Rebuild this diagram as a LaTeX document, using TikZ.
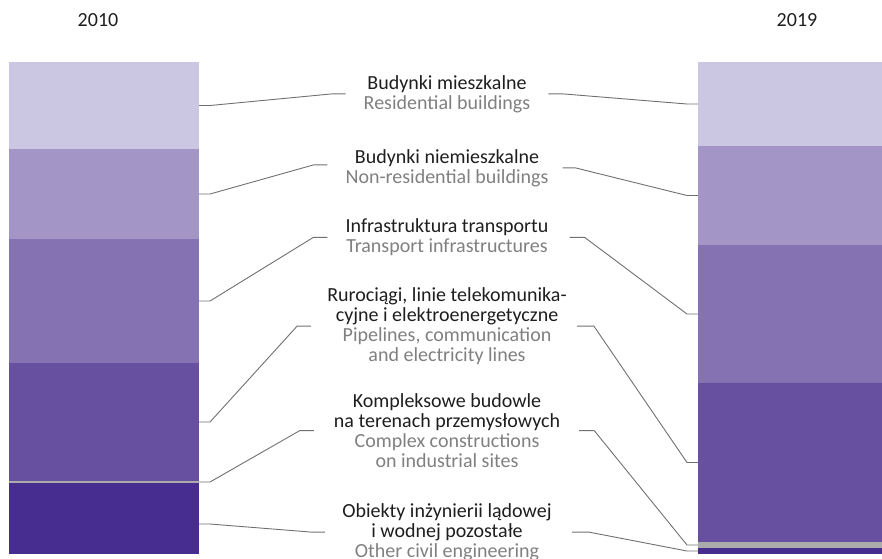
\documentclass[tikz,border=0pt]{standalone}
\usepackage{fontspec}
\setmainfont{Carlito}
\usepackage{xcolor}
\usetikzlibrary{positioning}

\definecolor{shadeA}{HTML}{CBC6E1}
\definecolor{shadeB}{HTML}{A396C7}
\definecolor{shadeC}{HTML}{8572B2}
\definecolor{shadeD}{HTML}{6850A1}
\definecolor{shadeE}{HTML}{ABABAB}
\definecolor{shadeF}{HTML}{472D8F}
\definecolor{pltext}{HTML}{1E1E1E}
\definecolor{entext}{HTML}{808080}
\definecolor{leader}{HTML}{707070}

\newcommand{\eng}[1]{\textcolor{entext}{#1}}

\begin{document}
\begin{tikzpicture}[x=1pt,y=-1pt]
\useasboundingbox (0,0) rectangle (882,558);

% years
\node[text=pltext,font=\fontsize{20}{24}\selectfont] (y2010) at (98,20) {2010};
\node[text=pltext,font=\fontsize{20}{24}\selectfont] (y2019) at (797,20) {2019};

% left bar (2010)
\begin{scope}[every node/.style={rectangle,inner sep=0,outer sep=0,minimum width=190}]
  \node[fill=shadeA,minimum height=87] (l1) at (104,105.5) {};
  \node[fill=shadeB,minimum height=90] (l2) at (104,194) {};
  \node[fill=shadeC,minimum height=124] (l3) at (104,301) {};
  \node[fill=shadeD,minimum height=118] (l4) at (104,422) {};
  \node[fill=shadeE,minimum height=2] (l5) at (104,482) {};
  \node[fill=shadeF,minimum height=71] (l6) at (104,518.5) {};
\end{scope}

% right bar (2019)
\begin{scope}[every node/.style={rectangle,inner sep=0,outer sep=0,minimum width=184}]
  \node[fill=shadeA,minimum height=84] (r1) at (790,104) {};
  \node[fill=shadeB,minimum height=99] (r2) at (790,195.5) {};
  \node[fill=shadeC,minimum height=138] (r3) at (790,314) {};
  \node[fill=shadeD,minimum height=159] (r4) at (790,462.5) {};
  \node[fill=shadeE,minimum height=6] (r5) at (790,545) {};
  \node[fill=shadeF,minimum height=6] (r6) at (790,551) {};
\end{scope}

% labels (placed by the baseline of their last line)
\begin{scope}[every node/.style={align=center,inner sep=0,anchor=base,text=pltext,
    font=\fontsize{20}{19.7}\selectfont}]
  \node (res) at (447,109) {Budynki mieszkalne\\\eng{Residential buildings}};
  \node (nonres) at (447,183) {Budynki niemieszkalne\\\eng{Non-residential buildings}};
  \node (transp) at (447,252.5) {Infrastruktura transportu\\\eng{Transport infrastructures}};
  \node (pipes) at (447,361) {Rurociągi, linie telekomunika-\\cyjne i elektroenergetyczne\\\eng{Pipelines, communication}\\\eng{and electricity lines}};
  \node (complex) at (447,467) {Kompleksowe budowle\\na terenach przemysłowych\\\eng{Complex constructions}\\\eng{on industrial sites}};
  \node (other) at (447,557) {Obiekty inżynierii lądowej\\i wodnej pozostałe\\\eng{Other civil engineering}};
\end{scope}

% leader lines
\begin{scope}[every path/.style={draw=leader,line width=0.9pt,line join=round}]
  \draw (l1.east) -- ++(11,0) -- ([xshift=-32pt]res.west) -- ([xshift=-18pt]res.west);
  \draw (l2.east) -- ++(11,0) -- ([xshift=-32pt,yshift=3pt]nonres.west) -- ([xshift=-18pt,yshift=3pt]nonres.west);
  \draw (l3.east) -- ++(11,0) -- ([xshift=-32pt]transp.west) -- ([xshift=-18pt]transp.west);
  \draw (l4.east) -- ++(11,0) -- ([xshift=-30pt]pipes.west) -- ([xshift=-16pt]pipes.west);
  \draw (l5.east) -- ++(11,0) -- ([xshift=-34pt]complex.west) -- ([xshift=-20pt]complex.west);
  \draw ([yshift=-5.5pt]l6.east) -- ++(11,0) -- ([xshift=-31pt]other.west) -- ([xshift=-17pt]other.west);

  \draw (r1.west) -- ++(-11,0) -- ([xshift=33pt]res.east) -- ([xshift=18pt]res.east);
  \draw (r2.west) -- ++(-11,0) -- ([xshift=27pt]nonres.east) -- ([xshift=14pt]nonres.east);
  \draw (r3.west) -- ++(-11,0) -- ([xshift=36pt]transp.east) -- ([xshift=21pt]transp.east);
  \draw (r4.west) -- ++(-11,0) -- ([xshift=27pt]pipes.east) -- ([xshift=10pt]pipes.east);
  \draw (r5.west) -- ++(-11,0) -- ([xshift=34pt]complex.east) -- ([xshift=19pt]complex.east);
  \draw (r6.west) -- ++(-11,0) -- ([xshift=37pt]other.east) -- ([xshift=20pt]other.east);
\end{scope}
\end{tikzpicture}
\end{document}
